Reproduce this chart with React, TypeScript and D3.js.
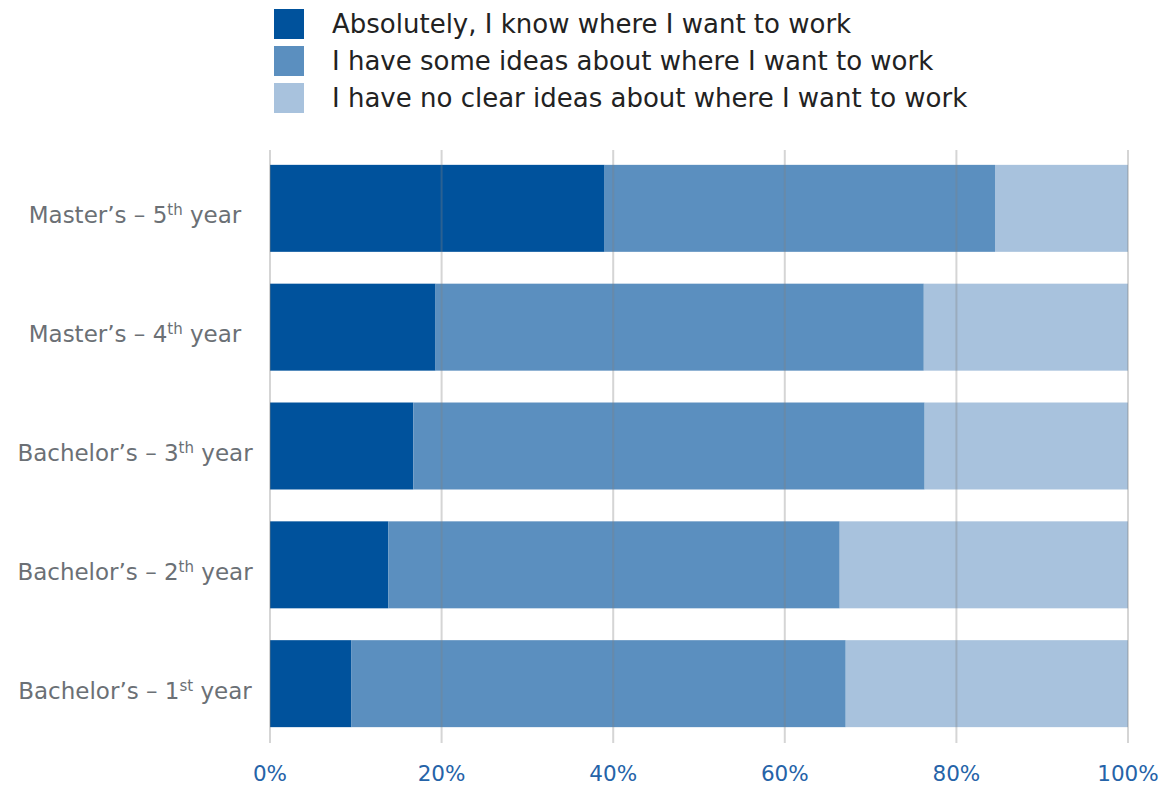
import React from "react";
import * as d3 from "d3";

const categories = [
  { main: "Master’s – ", num: "5", sup: "th", tail: " year" },
  { main: "Master’s – ", num: "4", sup: "th", tail: " year" },
  { main: "Bachelor’s – ", num: "3", sup: "th", tail: " year" },
  { main: "Bachelor’s – ", num: "2", sup: "th", tail: " year" },
  { main: "Bachelor’s – ", num: "1", sup: "st", tail: " year" },
];
const categoryKeys = ["M5", "M4", "B3", "B2", "B1"];

const seriesNames = [
  "Absolutely, I know where I want to work",
  "I have some ideas about where I want to work",
  "I have no clear ideas about where I want to work",
];
const absolutely = [39.0, 19.3, 16.7, 13.8, 9.5];
const someIdeas = [45.5, 56.9, 59.6, 52.6, 57.6];
const noClear = [15.5, 23.8, 23.7, 33.6, 32.9];
const seriesColors = ["#00529c", "#5b8fbf", "#a8c2dd"];
const xTicks = [0, 20, 40, 60, 80, 100];

const W = 1159;
const H = 785;
const FONT = "'DejaVu Sans', sans-serif";

export default function App() {
  const x = d3.scaleLinear().domain([0, 100]).range([270, 1128]);
  const y = d3
    .scaleBand<string>()
    .domain(categoryKeys)
    .range([133, 759])
    .paddingInner(0.268)
    .paddingOuter(0.268);

  const rows = categoryKeys.map((k, i) => ({
    key: k,
    s0: absolutely[i],
    s1: someIdeas[i],
    s2: noClear[i],
  }));
  const stack = d3.stack<any>().keys(["s0", "s1", "s2"]);
  const stacked = stack(rows);

  return (
    <svg
      width={W}
      height={H}
      style={{ position: "absolute", left: 0, top: 0, display: "block", background: "#fff" }}
    >
      {/* legend */}
      {seriesNames.map((name, i) => (
        <g key={name}>
          <rect x={274} y={9 + i * 37} width={30} height={30} fill={seriesColors[i]} />
          <text x={332} y={33 + i * 37} fontFamily={FONT} fontSize={26} fill="#222">
            {name}
          </text>
        </g>
      ))}

      {/* bars */}
      {stacked.map((layer, si) => (
        <g key={si} fill={seriesColors[si]}>
          {layer.map((d, ci) => (
            <rect
              key={ci}
              x={x(d[0])}
              y={y(categoryKeys[ci])}
              width={x(d[1]) - x(d[0])}
              height={y.bandwidth()}
            />
          ))}
        </g>
      ))}

      {/* grid lines on top */}
      {xTicks.map((t) => (
        <line
          key={t}
          x1={x(t)}
          x2={x(t)}
          y1={150}
          y2={743}
          stroke="#808080"
          strokeOpacity={0.33}
          strokeWidth={2}
        />
      ))}

      {/* x tick labels */}
      {xTicks.map((t) => (
        <text
          key={t}
          x={x(t)}
          y={781}
          textAnchor="middle"
          fontFamily={FONT}
          fontSize={21.5}
          fill="#2563a8"
        >
          {t + "%"}
        </text>
      ))}

      {/* y labels */}
      {categories.map((c, i) => (
        <text
          key={i}
          x={135}
          y={(y(categoryKeys[i]) as number) + y.bandwidth() / 2 + 15}
          textAnchor="middle"
          fontFamily={FONT}
          fontSize={23}
          fill="#6b7075"
        >
          {c.main + c.num}
          <tspan fontSize={15} dy={-8}>
            {c.sup}
          </tspan>
          <tspan dy={8}>{c.tail}</tspan>
        </text>
      ))}
    </svg>
  );
}
